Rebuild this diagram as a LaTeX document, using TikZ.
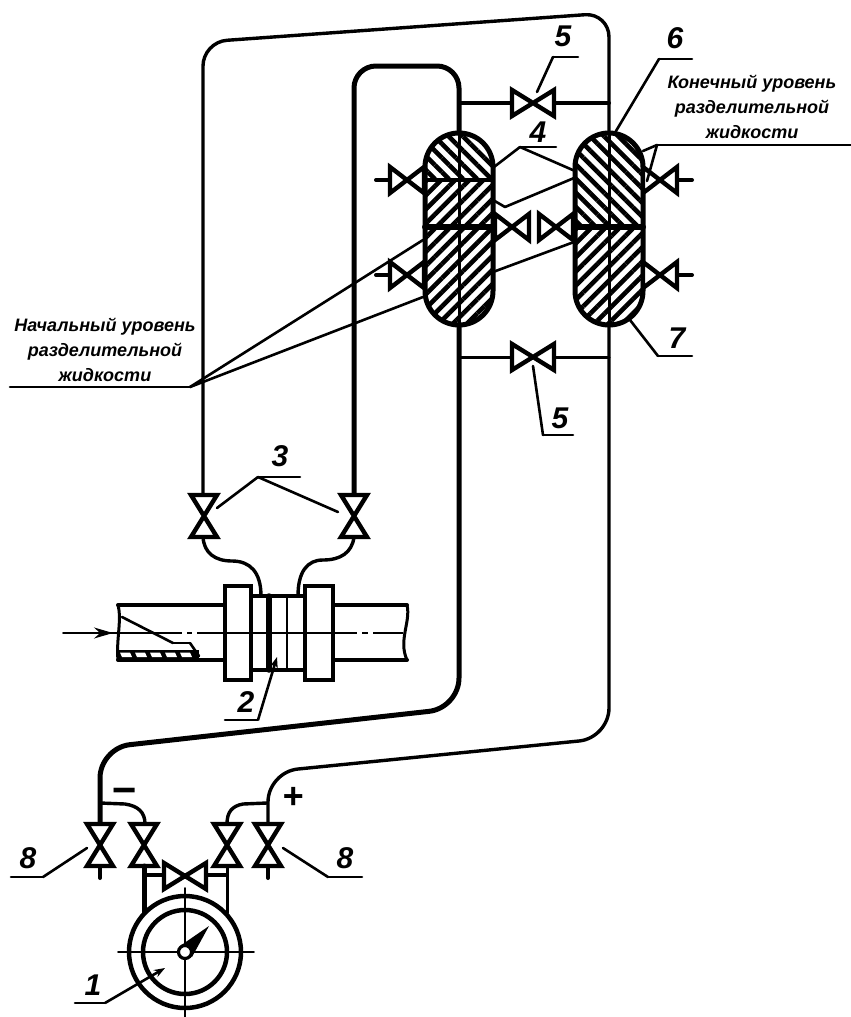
\documentclass[tikz,border=0pt]{standalone}
\usepackage{fontspec}
\setmainfont{Liberation Sans}
\usepackage{tkz-euclide}
\usetikzlibrary{arrows.meta,patterns.meta}

\tikzset{
  pipe/.style={line width=3.4pt,line join=round},
  fatpipe/.style={line width=5pt,line join=round},
  leader/.style={line width=2.6pt},
  thinline/.style={line width=1.6pt},
  hatchdown/.style={pattern={Lines[angle=-45,distance=10pt,line width=4.6pt]}},
  hatchup/.style={pattern={Lines[angle=45,distance=10pt,line width=4.6pt]}},
  numlabel/.style={font=\fontsize{30}{30}\selectfont\bfseries\itshape,inner sep=0pt},
  leveltext/.style={font=\fontsize{18}{25}\selectfont\bfseries\itshape,inner sep=0pt,align=center},
  valve/.pic={\draw[line width=4.4pt,line join=miter,fill=white] (-21,-13)--(21,13)--(21,-13)--(-21,13)--cycle;},
  sidevalve/.pic={\draw[line width=4.4pt,line join=miter,fill=white] (-17,-13)--(17,13)--(17,-13)--(-17,13)--cycle;},
  vessel/.style={line width=5pt,rounded corners=34pt}
}

\begin{document}
\begin{tikzpicture}[x=1pt,y=-1pt]
    \useasboundingbox (0,0) rectangle (851,1017);
    % vessels, hatching first
    \tkzDefPoints{425/133/La,493/180/Lb,425/180/Lc,493/227/Ld,425/227/Le,493/325/Lf,
      575/133/Ra,643/227/Rb,575/227/Rc,643/325/Rd}
    \begin{scope}
      \clip[rounded corners=34pt] (La) rectangle (Lf);
      \fill[hatchdown] (La) rectangle (Lb);
      \fill[hatchup] (Lc) rectangle (Lf);
    \end{scope}
    \begin{scope}
      \clip[rounded corners=34pt] (Ra) rectangle (Rd);
      \fill[hatchdown] (Ra) rectangle (Rb);
      \fill[hatchup] (Rc) rectangle (Rd);
    \end{scope}
    \draw[vessel] (La) rectangle (Lf);
    \draw[vessel] (Ra) rectangle (Rd);
    \tkzDefPoints{459/133/Lt,459/325/Lu,609/133/Rt,609/325/Ru,
      643/227/Rr}
    \tkzDrawSegments[line width=3pt](Lt,Lu Rt,Ru)
    \tkzDrawSegments[line width=3.4pt](Lc,Lb)
    \tkzDrawSegments[line width=6pt](Le,Ld Rc,Rr)
    % pipes
    \tkzDefPoints{203/500/a1,203/42/a2,609/13/a3,609/133/a4,609/325/a5,609/738/a6,
      268/772/a7,268/850/a8,
      354/500/b1,354/66/b2,459/66/b3,459/133/b4,459/325/b5,459/708/b6,100/748/b7,100/850/b8}
    \draw[pipe,rounded corners=24pt] (a1)--(a2)--(a3)--(a4);
    \draw[pipe,rounded corners=30pt] (a5)--(a6)--(a7)--(a8);
    \draw[fatpipe,rounded corners=22pt] (b1)--(b2)--(b3)--(b4);
    \draw[fatpipe,rounded corners=30pt] (b5)--(b6)--(b7)--(b8);
    \tkzDefPoints{459/103/c1,609/103/c2,459/357/d1,609/357/d2,
      376/180/e1,425/180/e2,376/275/f1,425/275/f2,
      643/180/g1,692/180/g2,643/275/h1,692/275/h2,
      493/227/i1,530/227/i2,538/227/j1,575/227/j2}
    \tkzDrawSegments[line width=4pt](c1,c2)
    \tkzDrawSegments[line width=3pt](d1,d2)
    \tkzDrawSegments[line width=4pt](e1,e2 f1,f2 g1,g2 h1,h2)
    \pic at (533,103) {valve};
    \pic at (533,357) {valve};
    \pic at (407,180) {sidevalve};
    \pic at (407,275) {sidevalve};
    \pic at (660,180) {sidevalve};
    \pic at (660,275) {sidevalve};
    \pic at (512,227) {sidevalve};
    \pic at (556,227) {sidevalve};
    % valves 3 and impulse lines to the orifice
    \pic[rotate=90] at (204,516) {valve};
    \pic[rotate=90] at (354,516) {valve};
    \draw[pipe] (203,537) .. controls (204,553) and (215,561) .. (232,561)
       .. controls (250,561) and (261,572) .. (261,596);
    \draw[pipe] (354,537) .. controls (352,553) and (340,560) .. (323,560)
       .. controls (307,560) and (298,572) .. (298,596);
    % pipeline
    \tkzDefPoints{118/605/p1,223/605/p2,333/605/p3,407/605/p4,
      118/660/q1,223/660/q2,333/660/q3,407/660/q4,
      118/633/m1,407/633/m2,63/633/m0,
      122/617/w1,173/643/w2,190/643/w3,199/656/w4}
    \tkzDrawSegments[line width=4pt](p1,p2 p3,p4 q1,q2 q3,q4)
    \draw[line width=3pt] (p1) .. controls (122,620) and (116,640) .. (q1);
    \draw[line width=3pt] (p4) .. controls (411,622) and (398,640) .. (q4);
    \tkzDrawSegments[line width=2.6pt](w1,w2 w2,w3 w3,w4)
    \fill (118,650) rectangle (199,661);
    \foreach \xx in {120,135,150,165,180}
      \fill[white] (\xx,652.5) -- (\xx+10,652.5) -- (\xx+12,657) -- (\xx+2,657) -- cycle;
    \draw[line width=1.8pt,-{Stealth[length=19pt,width=11pt]}] (m0) -- (113,633);
    \tkzDrawSegment[line width=1.8pt](m0,m1)
    \draw[line width=1.8pt,dash pattern=on 64pt off 5pt on 5pt off 5pt on 160pt off 5pt on 6pt off 5pt on 30pt] (m1) -- (m2);
    % orifice
    \draw[line width=3.6pt] (225,586) rectangle (251,680);
    \draw[line width=3.6pt] (305,586) rectangle (333,680);
    \draw[line width=3.6pt] (251,596) rectangle (305,670);
    \tkzDefPoints{269/596/o1,269/670/o2,287/596/o3,287/670/o4}
    \tkzDrawSegment[line width=5.5pt](o1,o2)
    \tkzDrawSegment[line width=2.6pt](o3,o4)
    % bottom manifold
    \pic[rotate=90] at (100,845) {valve};
    \pic[rotate=90] at (144,845) {valve};
    \pic[rotate=90] at (227,845) {valve};
    \pic[rotate=90] at (268,845) {valve};
    \tkzDefPoints{100/866/s1,100/878/s2,268/866/s3,268/878/s4,
      144/866/t1,144/913/t2,227/866/t3,227/913/t4,144/875/t5,227/875/t6}
    \tkzDrawSegments[line width=4pt](s1,s2 s3,s4)
    \tkzDrawSegments[line width=5pt](t1,t2)
    \tkzDrawSegments[line width=3pt](t3,t4)
    \tkzDrawSegments[line width=3.6pt](t5,t6)
    \draw[pipe] (100,803) -- (125,804) .. controls (138,806) and (145,812) .. (145,824);
    \draw[pipe] (267,803) -- (243,804) .. controls (232,806) and (227,812) .. (227,824);
    \pic at (185,876) {valve};
    % gauge
    \tkzDefPoints{185/952/G,241/952/Ga,227/952/Gb,118/952/x1,254/952/x2,185/888/y1,185/1017/y2}
    \tkzDrawCircle[color=black,line width=4.5pt,fill=white](G,Ga)
    \tkzDrawCircle[color=black,line width=4.5pt](G,Gb)
    \tkzDrawSegments[thinline](x1,x2 y1,y2)
    \fill (180,946) -- (209,926) -- (192,957) -- cycle;
    \draw[line width=3.2pt,fill=white] (G) circle (6.5pt);
    % leaders
    \tkzDefPoints{537/92/k1,553/57/k2,578/57/k3,
      533/366/l1,543/435/l2,573/435/l3,
      616/131/n1,659/59/n2,692/59/n3,
      851/145/r1,657/145/r2,643/151/r3,647/181/r4,
      493/200/u1,505/207/u2,574/178/u3,
      493/272/v1,574/242/v2,
      10/387/z1,190/387/z2,423/240/z3,423/297/z4,
      630/320/B1,658/356/B2,692/356/B3,
      494/167/C1,520/147/C2,556/147/C3,575/171/C4,
      217/508/D1,258/477/D2,300/477/D3,338/512/D4,
      277/657/E1,258/720/E2,225/720/E3,
      87/848/F1,43/877/F2,11/877/F3,
      283/848/H1,328/877/H2,362/877/H3,
      165/968/I1,105/1003/I2,75/1003/I3}
    \tkzDrawSegments[leader](k1,k2 k2,k3 l1,l2 l2,l3 n1,n2 n2,n3)
    \tkzDrawSegments[leader](r1,r2 r2,r3 r2,r4 u1,u2 u2,u3 v1,v2)
    \tkzDrawSegments[leader](z1,z2 z2,z3 z2,z4 B1,B2 B2,B3)
    \tkzDrawSegments[leader](C1,C2 C2,C3 C2,C4 D1,D2 D2,D3 D2,D4)
    \tkzDrawSegments[leader](E2,E3 F1,F2 F2,F3 H1,H2 H2,H3 I2,I3)
    \draw[leader,-{Stealth[length=11pt,width=8pt]}] (E2) -- (E1);
    \draw[leader,-{Stealth[length=11pt,width=8pt]}] (I2) -- (I1);
    % labels
    \node[numlabel] (nfive) at (563,36) {5};
    \node[numlabel] (nfivb) at (560,418) {5};
    \node[numlabel] (nsix) at (675,38) {6};
    \node[numlabel] (nseven) at (677,338) {7};
    \node[numlabel] (nfour) at (538,132) {4};
    \node[numlabel] (nthree) at (280,456) {3};
    \node[numlabel] (ntwo) at (246,702) {2};
    \node[numlabel] (none) at (93,985) {1};
    \node[numlabel] (neight) at (28,858) {8};
    \node[numlabel] (neighb) at (345,858) {8};
    \node[numlabel] (nminus) at (124,796) {\fontsize{42}{42}\selectfont −};
    \node[numlabel] (nplus) at (293,798) {\fontsize{36}{36}\selectfont +};
    \node[leveltext] (tstart) at (105,350) {Начальный уровень\\разделительной\\жидкости};
    \node[leveltext] (tfinal) at (752,107) {Конечный уровень\\разделительной\\жидкости};
  \end{tikzpicture}
\end{document}
